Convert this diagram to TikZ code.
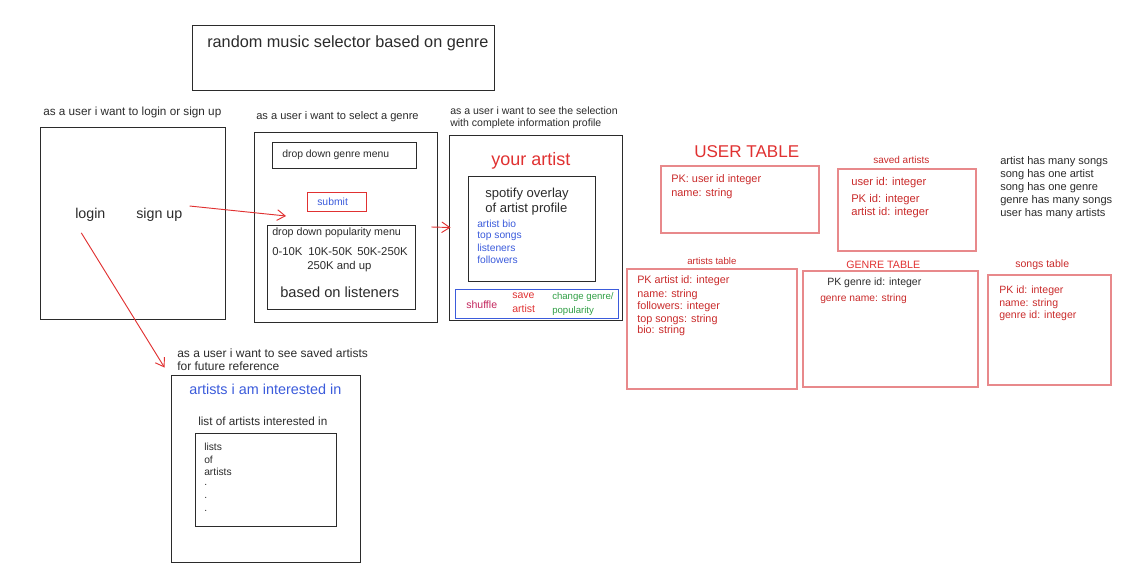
\documentclass[tikz,border=0pt]{standalone}
\usepackage{fontspec}
\setmainfont{Liberation Sans}
\usepackage{xcolor}
\usepackage{tikz}
\usetikzlibrary{arrows.meta}
\usetikzlibrary{calc}
\usetikzlibrary{fit}

\definecolor{ink}{HTML}{2B2B2B}
\definecolor{sketchred}{HTML}{E03131}
\definecolor{tablered}{HTML}{E8898B}
\definecolor{inkred}{HTML}{C92A2A}
\definecolor{inkblue}{HTML}{3B5BDB}
\definecolor{inkgreen}{HTML}{2F9E44}
\definecolor{inkpink}{HTML}{C2255C}

\begin{document}
\begin{tikzpicture}[x=0.75pt, y=-0.75pt, box/.style={draw=ink, line width=0.7pt, inner sep=0pt}, tbox/.style={draw=tablered, line width=0.9pt, inner sep=0pt}, txt/.style={anchor=west, inner sep=0pt, text=ink, font=\fontsize{#1}{#1}\selectfont}, link/.style={-{Straight Barb[length=6pt, width=8pt]}, draw=sketchred, line width=0.7pt}]
	\useasboundingbox (0,0) rectangle (1131,578);
	% title
	\node[box, fit={(192,25) (494,90)}] (titlebox) {};
	\node[txt=12.2] (title) at (207,43) {random music selector based on genre};
	% login
	\node[txt=8.8] (loginStory) at (43,112) {as a user i want to login or sign up};
	\node[box, fit={(40,127) (225,319)}] (loginbox) {};
	\node[txt=10.7] (login) at (75,215) {login};
	\node[txt=10.7] (signup) at (136,215) {sign up};
	% genre
	\node[txt=8.3] (genreStory) at (256,117) {as a user i want to select a genre};
	\node[box, fit={(254,132) (437,322)}] (genrebox) {};
	\node[box, fit={(272,142) (416,168)}] (genremenu) {};
	\node[txt=7.8] (genremenuLabel) at (282,155) {drop down genre menu};
	\node[box, draw=sketchred, fit={(307,192) (366,211)}] (submit) {};
	\node[txt=7.8, text=inkblue] (submitLabel) at (317,202) {submit};
	\node[box, fit={(267,225) (415,309)}] (popmenu) {};
	\node[txt=8] (popmenuLabel) at (272,233) {drop down popularity menu};
	\node[txt=8.5] (popA) at (272,252) {0-10K};
	\node[txt=8.5] (popB) at (308,252) {10K-50K};
	\node[txt=8.5] (popC) at (357,252) {50K-250K};
	\node[txt=8.5] (popD) at (307,267) {250K and up};
	\node[txt=11] (popBasis) at (280,292) {based on listeners};
	% artist
	\node[txt=7.9] (artistStoryA) at (450,111) {as a user i want to see the selection};
	\node[txt=7.9] (artistStoryB) at (450,124) {with complete information profile};
	\node[box, fit={(449,135) (622,320)}] (artistbox) {};
	\node[txt=13.5, text=sketchred] (yourArtist) at (491,161) {your artist};
	\node[box, fit={(468,176) (595,281)}] (overlay) {};
	\node[txt=9.8] (overlayA) at (485,194) {spotify overlay};
	\node[txt=9.8] (overlayB) at (485,209) {of artist profile};
	\node[txt=7.7, text=inkblue] (bio) at (477,224) {artist bio};
	\node[txt=7.7, text=inkblue] (topSongs) at (477,236) {top songs};
	\node[txt=7.7, text=inkblue] (listeners) at (477,248) {listeners};
	\node[txt=7.7, text=inkblue] (followers) at (477,260) {followers};
	\node[box, draw=inkblue, fit={(455,289) (618,318)}] (buttonbar) {};
	\node[txt=7.9, text=inkpink] (shuffle) at (466,305) {shuffle};
	\node[txt=7.9, text=sketchred] (saveA) at (512,296) {save};
	\node[txt=7.9, text=sketchred] (saveB) at (512,309) {artist};
	\node[txt=7.2, text=inkgreen] (changeA) at (552,297) {change genre/};
	\node[txt=7.2, text=inkgreen] (changeB) at (552,311) {popularity};
	% saved artists page
	\node[txt=9] (savedStoryA) at (177,353) {as a user i want to see saved artists};
	\node[txt=9] (savedStoryB) at (177,366) {for future reference};
	\node[box, fit={(171,375) (360,562)}] (savedbox) {};
	\node[txt=10.8, text=inkblue] (interested) at (189,389) {artists i am interested in};
	\node[txt=8.8] (listTitle) at (198,421) {list of artists interested in};
	\node[box, fit={(195,433) (336,526)}] (listbox) {};
	\node[txt=7.7] (listA) at (204,447) {lists};
	\node[txt=7.7] (listB) at (204,460) {of};
	\node[txt=7.7] (listC) at (204,472) {artists};
	\node[txt=7.7] (dotA) at (204,485) {.};
	\node[txt=7.7] (dotB) at (204,498) {.};
	\node[txt=7.7] (dotC) at (204,511) {.};
	% tables
	\node[txt=12.8, text=sketchred] (userTitle) at (694,152) {USER TABLE};
	\node[tbox, fit={(661,166) (819,233)}] (usertable) {};
	\node[txt=8.2, text=inkred] (userA) at (671,180) {PK: user id integer};
	\node[txt=8.2, text=inkred] (userB) at (671,194) {name: string};
	\node[txt=7.5, text=inkred] (savedTitle) at (873,160) {saved artists};
	\node[tbox, fit={(838,169) (976,251)}] (savedtable) {};
	\node[txt=8.4, text=inkred] (savedA) at (851,183) {user id: integer};
	\node[txt=8.4, text=inkred] (savedB) at (851,200) {PK id: integer};
	\node[txt=8.4, text=inkred] (savedC) at (851,213) {artist id: integer};
	\node[txt=8.3] (relA) at (1000,162) {artist has many songs};
	\node[txt=8.3] (relB) at (1000,175) {song has one artist};
	\node[txt=8.3] (relC) at (1000,188) {song has one genre};
	\node[txt=8.3] (relD) at (1000,201) {genre has many songs};
	\node[txt=8.3] (relE) at (1000,214) {user has many artists};
	\node[txt=7.2, text=inkred] (artistsTitle) at (687,261) {artists table};
	\node[tbox, fit={(627,269) (797,389)}] (artiststable) {};
	\node[txt=8.1, text=inkred] (artistsA) at (637,281) {PK artist id: integer};
	\node[txt=8.1, text=inkred] (artistsB) at (637,295) {name: string};
	\node[txt=8.1, text=inkred] (artistsC) at (637,307) {followers: integer};
	\node[txt=8.1, text=inkred] (artistsD) at (637,320) {top songs: string};
	\node[txt=8.1, text=inkred] (artistsE) at (637,331) {bio: string};
	\node[txt=8, text=sketchred] (genreTitle) at (846,265) {GENRE TABLE};
	\node[tbox, fit={(803,271) (978,387)}] (genretable) {};
	\node[txt=7.9] (genreA) at (827,283) {PK genre id: integer};
	\node[txt=7.7, text=inkred] (genreB) at (820,299) {genre name: string};
	\node[txt=7.9, text=inkred] (songsTitle) at (1015,265) {songs table};
	\node[tbox, fit={(988,275) (1111,385)}] (songstable) {};
	\node[txt=7.9, text=inkred] (songsA) at (999,291) {PK id: integer};
	\node[txt=7.9, text=inkred] (songsB) at (999,304) {name: string};
	\node[txt=7.9, text=inkred] (songsC) at (999,316) {genre id: integer};
	% flow
	\coordinate (genreTip) at (286,216);
	\draw[link] ($(signup.east)+(7,-9)$) -- (genreTip);
	\draw[link] ($(genrebox.east)+(-6,0)$) -- ($(artistbox.west)+(2,0)$);
	\draw[link] ($(login.south)+(-9,11)$) -- ($(savedbox.north west)+(-6,-7)$);
\end{tikzpicture}
\end{document}
